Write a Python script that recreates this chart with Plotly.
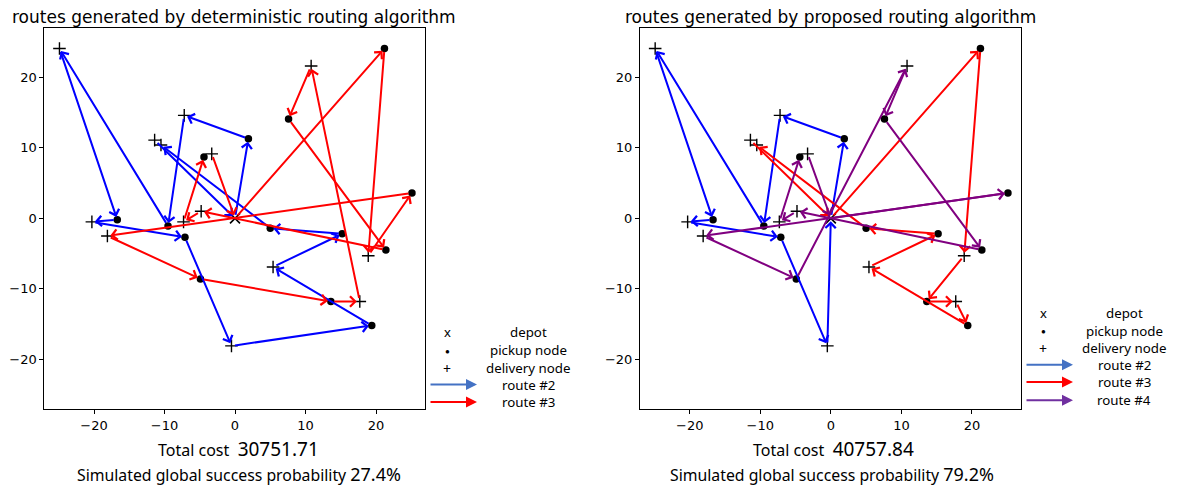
import plotly.graph_objects as go

# page body has an 8px margin; figure is sized to fit the 1182x486 window
OFF = 8
W, H = 1182 - OFF, 486 - OFF

# ---------------- data ----------------
depot_xy = (0.0, 0.0)
pickup_names = ["P1", "P2", "P3", "P4", "P5", "P6", "P7", "P8", "P9", "P10", "P11", "P12", "P13", "P14"]
pickup_x = [21.2, 7.6, 1.9, -4.4, -16.7, -9.5, -7.1, -4.9, 5.0, 15.2, 21.4, 25.1, 13.6, 19.4]
pickup_y = [24.1, 14.1, 11.3, 8.7, -0.2, -1.1, -2.7, -8.6, -1.4, -2.2, -4.5, 3.6, -11.8, -15.2]
delivery_names = ["D1", "D2", "D3", "D4", "D5", "D6", "D7", "D8", "D9", "D10", "D11", "D12", "D13", "D14"]
delivery_x = [-24.9, -7.2, -11.4, -10.5, -3.3, 10.8, -20.3, -18.1, -7.3, -4.8, 5.4, 18.9, 17.7, -0.5]
delivery_y = [24.1, 14.6, 11.1, 10.4, 9.15, 21.6, -0.5, -2.5, -0.5, 1.0, -6.9, -5.3, -11.8, -18.1]

det_route2 = ["depot", "P3", "D2", "P6", "D1", "P5", "D7", "P7", "D14", "P14", "D11", "P10", "P9", "D4", "D3", "depot"]
det_route3 = ["depot", "P1", "D12", "P12", "D8", "P8", "P13", "D13", "D6", "P2", "P11", "D10", "D9", "P4", "D5", "depot"]

prop_route2 = ["depot", "P3", "D2", "P6", "D1", "P5", "D7", "P7", "D14", "depot"]
prop_route3 = ["depot", "P1", "D12", "P13", "D13", "P14", "D11", "P10", "P9", "D4", "D3", "depot"]
prop_route4 = ["depot", "P12", "D8", "P8", "D6", "P2", "P11", "D10", "D9", "P4", "D5", "depot"]

det_cost = "30751.71"
det_prob = "27.4%"
prop_cost = "40757.84"
prop_prob = "79.2%"

titles = ["routes generated by deterministic routing algorithm",
          "routes generated by proposed routing algorithm"]
tick_vals = [-20, -10, 0, 10, 20]

# ---------------- helpers ----------------
XY = {"depot": depot_xy}
for n, x, y in zip(pickup_names, pickup_x, pickup_y):
    XY[n] = (x, y)
for n, x, y in zip(delivery_names, delivery_x, delivery_y):
    XY[n] = (x, y)

def px(x):
    return (x - OFF) / W

def py(y):
    return 1 - (y - OFF) / H

BLUE, RED, PURPLE = "#0000FF", "#FF0000", "#800080"

fig = go.Figure()

def add_nodes(xa, ya):
    fig.add_trace(go.Scatter(x=pickup_x, y=pickup_y, mode="markers", xaxis=xa, yaxis=ya,
                             marker=dict(symbol="circle", size=7.5, color="black"), showlegend=False))
    fig.add_trace(go.Scatter(x=delivery_x, y=delivery_y, mode="markers", xaxis=xa, yaxis=ya,
                             marker=dict(symbol="cross-thin", size=9, line=dict(width=1.4, color="black")),
                             showlegend=False))
    fig.add_trace(go.Scatter(x=[depot_xy[0]], y=[depot_xy[1]], mode="markers", xaxis=xa, yaxis=ya,
                             marker=dict(symbol="x-thin", size=10, line=dict(width=1.6, color="black")),
                             showlegend=False))

add_nodes("x", "y")
add_nodes("x2", "y2")

anns = []

def route_arrows(route, color, xr, yr):
    for a, b in zip(route[:-1], route[1:]):
        xa, ya = XY[a]
        xb, yb = XY[b]
        anns.append(dict(x=xb, y=yb, ax=xa, ay=ya, xref=xr, yref=yr, axref=xr, ayref=yr,
                         text="", showarrow=True, arrowhead=4, arrowsize=1.0, arrowwidth=2,
                         arrowcolor=color, standoff=3, startstandoff=2))

route_arrows(det_route2, BLUE, "x", "y")
route_arrows(det_route3, RED, "x", "y")
route_arrows(prop_route2, BLUE, "x2", "y2")
route_arrows(prop_route3, RED, "x2", "y2")
route_arrows(prop_route4, PURPLE, "x2", "y2")

TFONT = "DejaVu Sans"
LFONT = "Noto Sans"

def text(xp, yp, s, size, family=LFONT, anchor="center"):
    anns.append(dict(x=px(xp), y=py(yp), xref="paper", yref="paper", text=s, showarrow=False,
                     xanchor=anchor, yanchor="middle", font=dict(family=family, size=size, color="black")))

# titles
text(234, 16.5, titles[0], 17, TFONT)
text(830.5, 16.5, titles[1], 17, TFONT)

# bottom texts
text(238, 449, "Total cost  <span style='font-size:19px'>%s</span>" % det_cost, 16)
text(238.5, 474, "Simulated global success probability <span style='font-size:18px'>%s</span>" % det_prob, 15.8)
text(833, 449, "Total cost  <span style='font-size:19px'>%s</span>" % prop_cost, 16)
text(832, 474, "Simulated global success probability <span style='font-size:18px'>%s</span>" % prop_prob, 15.8)

# legends
def legend(x0, ys, routes):
    text(x0 + 18, ys[0], "x", 13)
    text(x0 + 18, ys[1], "●", 8)
    text(x0 + 18, ys[2], "+", 14)
    labels = ["depot", "pickup node", "delivery node"] + [r[0] for r in routes]
    for lab, yy in zip(labels, ys):
        text(x0 + 99, yy, lab, 13.3)
    for (lab, col), yy in zip(routes, ys[3:]):
        anns.append(dict(x=px(x0 + 48), y=py(yy), ax=-48, ay=0, xref="paper", yref="paper",
                         axref="pixel", ayref="pixel", text="", showarrow=True, arrowhead=2,
                         arrowsize=1.1, arrowwidth=2, arrowcolor=col, standoff=0))

legend(429, [331.5, 350, 368, 384.5, 402], [("route #2", "#4472C4"), ("route #3", "#FF0000")])
legend(1025, [312.7, 330.7, 348.3, 364.7, 382, 400.3],
       [("route #2", "#4472C4"), ("route #3", "#FF0000"), ("route #4", "#7030A0")])

xrng = [-27.05, 26.95]
yrng = [-27.05, 27.0]
ydom = [py(409), py(28)]

axis_common = dict(showgrid=False, zeroline=False, showline=True, linecolor="black", linewidth=1,
                   mirror=True, ticks="outside", ticklen=4, tickwidth=1, tickcolor="black",
                   tickvals=tick_vals, tickfont=dict(family=TFONT, size=13, color="black"))

fig.update_layout(
    width=W, height=H, margin=dict(l=0, r=0, t=0, b=0),
    paper_bgcolor="white", plot_bgcolor="white", showlegend=False,
    xaxis=dict(domain=[px(44.3), px(425)], range=xrng, anchor="y", **axis_common),
    yaxis=dict(domain=ydom, range=yrng, anchor="x", **axis_common),
    xaxis2=dict(domain=[px(640), px(1021)], range=xrng, anchor="y2", **axis_common),
    yaxis2=dict(domain=ydom, range=yrng, anchor="x2", **axis_common),
    annotations=anns,
)

fig.write_html("out.html")
